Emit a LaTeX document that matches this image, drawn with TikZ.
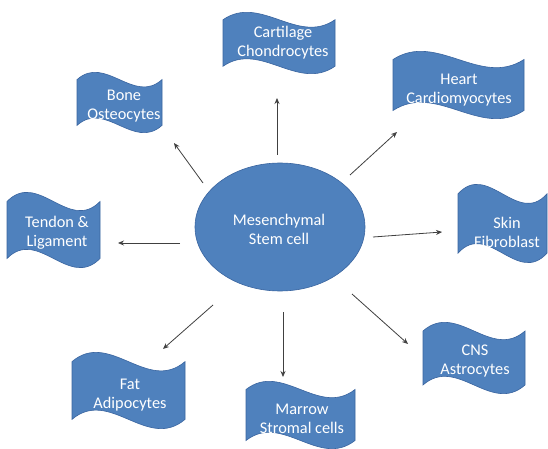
\documentclass[tikz,border=0pt]{standalone}
\usepackage{fontspec}
\setmainfont{Carlito}
\usetikzlibrary{arrows.meta,shapes.geometric}
\definecolor{wblue}{HTML}{4F81BD}
\definecolor{wline}{HTML}{3A65A0}
\definecolor{arrgray}{HTML}{404040}
\newcommand\wavebox[4]{%
  \pgfmathsetmacro\wvA{0.125*(#4-#2)}%
  \pgfmathsetmacro\wvD{3.33*\wvA}%
  \pgfmathsetmacro\wvL{#1+(#3-#1)/3}%
  \pgfmathsetmacro\wvR{#1+2*(#3-#1)/3}%
  \draw[wavefill] (#1,#2+\wvA) .. controls (\wvL,#2+\wvA-\wvD) and (\wvR,#2+\wvA+\wvD) .. (#3,#2+\wvA)
    -- (#3,#4-\wvA) .. controls (\wvR,#4-\wvA+\wvD) and (\wvL,#4-\wvA-\wvD) .. (#1,#4-\wvA) -- cycle;
}
\begin{document}
\begin{tikzpicture}[x=1pt,y=-1pt,
  wavefill/.style={fill=wblue,draw=wline,line width=0.6pt},
  lbl/.style={text=white,align=center,font=\fontsize{16.3}{19}\selectfont,inner sep=0pt},
  stem/.style={ellipse,fill=wblue,draw=wline,line width=0.6pt,minimum width=170pt,minimum height=128pt,inner sep=0pt},
  arr/.style={draw=arrgray,line width=0.8pt,-{Stealth[length=6pt,width=5pt]}}]
\useasboundingbox[fill=white] (0,0) rectangle (548,449);

% wave boxes
\wavebox{77}{72}{162}{133}
\wavebox{223}{12}{335}{74}
\wavebox{393}{51}{524}{119}
\wavebox{7}{192}{100}{268}
\wavebox{458}{184}{547}{263}
\wavebox{72}{352}{185}{429}
\wavebox{246}{381}{355}{449}
\wavebox{423}{322}{525}{394}

% central ellipse
\node[stem] (m) at (280,227) {};
\node[lbl] (mt) at (279,229) {Mesenchymal\\Stem cell};

% labels
\node[lbl] (bone) at (124,106) {Bone\\Osteocytes};
\node[lbl] (cart) at (283,43) {Cartilage\\Chondrocytes};
\node[lbl] (heart) at (459,90) {Heart\\Cardiomyocytes};
\node[lbl] (tendon) at (57,233) {Tendon \&\\Ligament};
\node[lbl] (skin) at (507,232) {Skin\\Fibroblast};
\node[lbl] (fat) at (130,395) {Fat\\Adipocytes};
\node[lbl] (marrow) at (302,419) {Marrow\\Stromal cells};
\node[lbl] (cns) at (475,361) {CNS\\Astrocytes};

% arrow endpoints
\coordinate (s1) at (203,183); \coordinate (e1) at (174,143);
\coordinate (s2) at (277,155); \coordinate (e2) at (277,98);
\coordinate (s3) at (350,175); \coordinate (e3) at (397,132);
\coordinate (s4) at (180,243); \coordinate (e4) at (118,243);
\coordinate (s5) at (373,237); \coordinate (e5) at (442,232);
\coordinate (s6) at (213,305); \coordinate (e6) at (163,349);
\coordinate (s7) at (283,312); \coordinate (e7) at (283,377);
\coordinate (s8) at (352,294); \coordinate (e8) at (408,344);

\draw[arr] (s1) -- (e1);
\draw[arr] (s2) -- (e2);
\draw[arr] (s3) -- (e3);
\draw[arr] (s4) -- (e4);
\draw[arr] (s5) -- (e5);
\draw[arr] (s6) -- (e6);
\draw[arr] (s7) -- (e7);
\draw[arr] (s8) -- (e8);
\end{tikzpicture}
\end{document}
